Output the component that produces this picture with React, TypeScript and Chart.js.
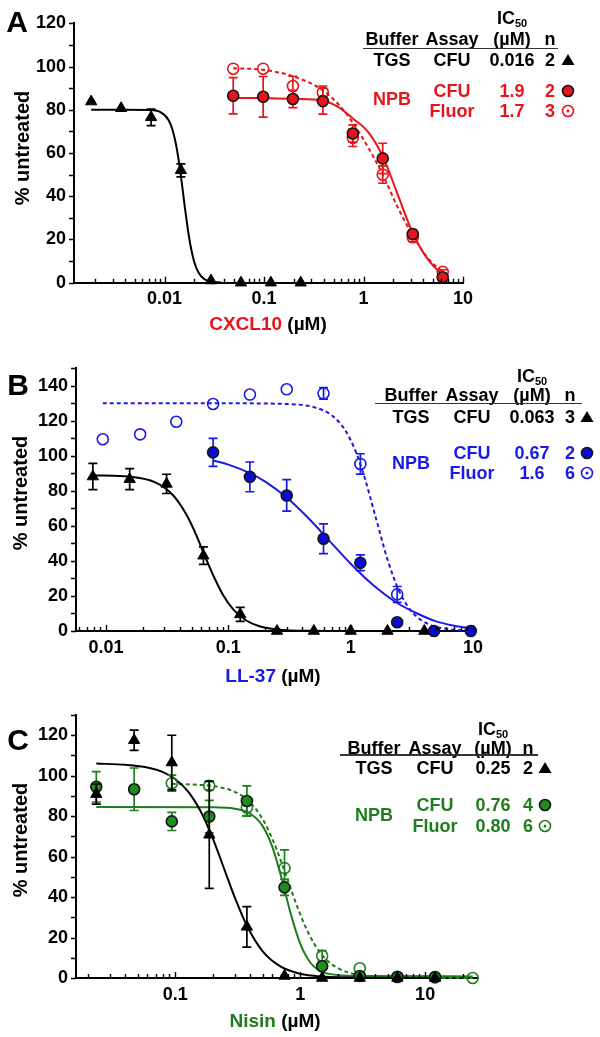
import React, { useEffect, useRef } from 'react';
import { Chart, registerables } from 'chart.js';

Chart.register(...registerables);

const FONT = '"Liberation Sans", Arial, Helvetica, sans-serif';
const RED = '#e8141c';
const BLUE = '#1a1ae6';
const BLUE_FILL = '#0b0bd6';
const GREEN = '#1f7d1f';
const GREEN_FILL = '#1e8c1e';
const INK = '#000000';

// ---------------- Panel A : CXCL10 ----------------
const A_TGS_X = [0.00183, 0.00366, 0.00732, 0.0146, 0.0293, 0.0586, 0.117, 0.234];
const A_TGS_Y = [83.8, 80.7, 76.5, 52, 1, 0, 0, 0];
const A_TGS_ERR = [0, 0, 3.8, 3, 0, 0, 0, 0];
const A_NPB_X = [0.049, 0.098, 0.195, 0.39, 0.78, 1.56, 3.125, 6.25];
const A_CFU_Y = [86.5, 86, 85, 84, 69, 57.5, 22.5, 2.5];
const A_CFU_ERR = [8.4, 9.4, 4, 6, 4, 7, 2, 1];
const A_FLU_Y = [99, 99, 91, 88, 67, 50, 21, 5];
const A_FLU_ERR = [0, 0, 4.5, 3, 4, 4, 2, 1];
const A_TGS_FIT_X = [0.00183, 0.004, 0.007, 0.009, 0.011, 0.012, 0.013, 0.014, 0.015, 0.016, 0.017, 0.018, 0.02, 0.022, 0.025, 0.029, 0.037];
const A_TGS_FIT_Y = [80, 80, 79.9, 79, 75.2, 70.9, 64.3, 55.4, 45.2, 34.9, 25.9, 18.6, 9.2, 4.6, 1.7, 0.5, 0.1];
const A_CFU_FIT_X = [0.049, 0.1, 0.2, 0.39, 0.55, 0.78, 1.1, 1.56, 2.2, 3.125, 4.4, 6.25];
const A_CFU_FIT_Y = [85.5, 85.4, 85.1, 84.2, 81.5, 76, 70, 58.5, 41, 23, 11, 3.5];
const A_FLU_FIT_X = [0.049, 0.098, 0.195, 0.39, 0.6, 0.78, 1.1, 1.56, 2.2, 3.125, 4.5, 6.25];
const A_FLU_FIT_Y = [99.2, 98.5, 95.5, 89, 81, 74, 63, 50, 35, 22, 11, 5];
const A_X_TICKS = [0.01, 0.1, 1, 10];
const A_Y_TICKS = [0, 20, 40, 60, 80, 100, 120];
const A_IC50 = ['0.016', '1.9', '1.7'];
const A_N = ['2', '2', '3'];

// ---------------- Panel B : LL-37 ----------------
const B_TGS_X = [0.0078, 0.0156, 0.03125, 0.0625, 0.125, 0.25, 0.5, 1, 2, 4];
const B_TGS_Y = [88.2, 86.7, 84, 43, 9.5, 0, 0, 0, 0, 0];
const B_TGS_ERR = [7.5, 6, 5.5, 5, 4, 0, 0, 0, 0, 0];
const B_CFU_X = [0.075, 0.15, 0.3, 0.6, 1.2, 2.4, 4.8, 9.6];
const B_CFU_Y = [102, 88, 77.4, 52.7, 39, 5, 0, 0];
const B_CFU_ERR = [8, 8.5, 9, 8.5, 4.5, 1, 0, 0];
const B_FLU_X = [0.0094, 0.019, 0.0375, 0.075, 0.15, 0.3, 0.6, 1.2, 2.4];
const B_FLU_Y = [109.5, 112.3, 119.5, 129.6, 135, 138, 135.7, 95.4, 20.9];
const B_FLU_ERR = [0, 0, 0, 0, 0, 0, 3.3, 5.8, 4.5];
const B_TGS_FIT_X = [0.0078, 0.0156, 0.025, 0.035, 0.045, 0.055, 0.0625, 0.075, 0.09, 0.11, 0.14, 0.18, 0.25, 0.5, 1, 2, 4];
const B_TGS_FIT_Y = [89, 88.1, 85, 77.8, 66.9, 54.3, 44.7, 32, 20.9, 12.2, 6, 2.7, 0.9, 0.1, 0, 0, 0];
const B_CFU_FIT_X = [0.075, 0.1, 0.15, 0.2, 0.3, 0.45, 0.67, 1.0, 1.5, 2.4, 3.5, 5, 7, 9.6];
const B_CFU_FIT_Y = [97.4, 95, 90.1, 85.3, 76.2, 64.5, 51.5, 38.4, 26.7, 16, 10, 5.5, 3, 1.5];
const B_FLU_FIT_X = [0.0094, 0.1, 0.3, 0.5, 0.7, 0.9, 1.1, 1.3, 1.6, 2.0, 2.5, 3.2, 4.5, 6.5, 9.6];
const B_FLU_FIT_Y = [130, 130, 129.6, 127.8, 123.2, 114.7, 102.4, 87.6, 65, 40.9, 22.5, 10.6, 3.4, 1, 0.2];
const B_X_TICKS = [0.01, 0.1, 1, 10];
const B_Y_TICKS = [0, 20, 40, 60, 80, 100, 120, 140];
const B_IC50 = ['0.063', '0.67', '1.6'];
const B_N = ['3', '2', '6'];

// ---------------- Panel C : Nisin ----------------
const C_X = [0.0234, 0.047, 0.094, 0.1875, 0.375, 0.75, 1.5, 3, 6, 12];
const C_TGS_Y = [90.9, 117.5, 106.5, 70.8, 25.3, 1, 0, 0, 0, 0];
const C_TGS_ERR = [5, 5, 13.5, 26.5, 10, 0, 0, 0, 0, 0];
const C_CFU_Y = [94.5, 93.3, 77.4, 79.8, 87.5, 44.8, 5.8, 1, 0.5, 0.5];
const C_CFU_ERR = [7.5, 10.5, 4.5, 8, 7.5, 4, 1, 0, 0, 0];
const C_FLU_X = [0.094, 0.1875, 0.375, 0.75, 1.5, 3, 6, 12, 24];
const C_FLU_Y = [96.3, 95, 84.3, 54.3, 11, 4.8, 0.6, 0.3, 0];
const C_FLU_ERR = [4, 2, 4, 9, 2.5, 0, 0, 0, 0];
const C_TGS_FIT_X = [0.0234, 0.04, 0.06, 0.08, 0.1, 0.13, 0.16, 0.2, 0.25, 0.3, 0.375, 0.5, 0.7, 1.0, 1.5, 3, 12];
const C_TGS_FIT_Y = [106, 105.4, 104.1, 101.8, 98.4, 91.4, 82.4, 69, 53, 39.8, 25.8, 13.3, 5.6, 2.1, 0.7, 0.1, 0];
const C_CFU_FIT_X = [0.0234, 0.2, 0.3, 0.4, 0.5, 0.6, 0.7, 0.76, 0.85, 1.0, 1.2, 1.5, 2, 3, 24];
const C_CFU_FIT_Y = [84.5, 84.4, 83.7, 81.2, 75.2, 64.7, 50.8, 42.3, 30.7, 17.1, 7.8, 3, 1.5, 1, 0.8];
const C_FLU_FIT_X = [0.094, 0.15, 0.2, 0.3, 0.4, 0.5, 0.6, 0.7, 0.8, 0.95, 1.1, 1.3, 1.6, 2, 3, 5, 24];
const C_FLU_FIT_Y = [96, 95.5, 94.9, 92, 86.6, 78.6, 68.7, 58.1, 48, 35.1, 25.5, 16.8, 9.4, 4.9, 1.4, 0.3, 0];
const C_X_TICKS = [0.1, 1, 10];
const C_Y_TICKS = [0, 20, 40, 60, 80, 100, 120];
const C_IC50 = ['0.25', '0.76', '0.80'];
const C_N = ['2', '4', '6'];

const Y_MINOR_STEP = 10;

const pts = (xs: number[], ys: number[]) => xs.map((x, i) => ({ x, y: ys[i] }));

// ---------------- plugins ----------------
const errPlugin = {
  id: 'errbars',
  beforeDatasetDraw(chart: any, args: any) {
    const ds = chart.data.datasets[args.index];
    if (!ds.errors) return;
    const ctx = chart.ctx;
    const xs = chart.scales.x;
    const ys = chart.scales.y;
    ctx.save();
    ctx.strokeStyle = ds.errColor;
    ctx.lineWidth = 1.7;
    ds.data.forEach((p: any, i: number) => {
      const e = ds.errors[i];
      if (!e) return;
      const x = xs.getPixelForValue(p.x);
      const y1 = ys.getPixelForValue(p.y + e);
      const y2 = ys.getPixelForValue(Math.max(0, p.y - e));
      ctx.beginPath();
      ctx.moveTo(x, y1); ctx.lineTo(x, y2);
      ctx.moveTo(x - 4.5, y1); ctx.lineTo(x + 4.5, y1);
      ctx.moveTo(x - 4.5, y2); ctx.lineTo(x + 4.5, y2);
      ctx.stroke();
    });
    ctx.restore();
  },
};

const tickPlugin = {
  id: 'axisTicks',
  afterDraw(chart: any) {
    const { ctx, chartArea } = chart;
    const xs = chart.scales.x;
    const ys = chart.scales.y;
    ctx.save();
    ctx.strokeStyle = INK;
    ctx.lineWidth = 1.4;
    ctx.beginPath();
    for (let v = 0; v <= ys.max + 1e-9; v += Y_MINOR_STEP) {
      const py = Math.round(ys.getPixelForValue(v)) + 0.5;
      ctx.moveTo(chartArea.left - 5, py);
      ctx.lineTo(chartArea.left, py);
    }
    const d0 = Math.floor(Math.log10(xs.min));
    const d1 = Math.ceil(Math.log10(xs.max));
    for (let d = d0; d <= d1; d++) {
      for (let m = 1; m < 10; m++) {
        const v = m * Math.pow(10, d);
        if (v < xs.min || v > xs.max * 1.0001) continue;
        const px = Math.round(xs.getPixelForValue(v)) + 0.5;
        const len = m === 1 ? 6 : 4;
        ctx.moveTo(px, chartArea.bottom);
        ctx.lineTo(px, chartArea.bottom - len);
      }
    }
    ctx.stroke();
    ctx.restore();
  },
};

// ---------------- datasets ----------------
function tri(data: any[], errors: number[]) {
  return { data, pointStyle: 'triangle', pointRadius: 6.5, backgroundColor: INK, borderColor: INK, borderWidth: 1, showLine: false, errors, errColor: INK, clip: false };
}
function filled(data: any[], errors: number[], fill: string, errColor: string) {
  return { data, pointStyle: 'circle', pointRadius: 5.5, backgroundColor: fill, borderColor: '#151515', borderWidth: 1.6, showLine: false, errors, errColor, clip: false };
}
function open(data: any[], errors: number[], color: string) {
  return { data, pointStyle: 'circle', pointRadius: 5.5, backgroundColor: 'rgba(255,255,255,0)', borderColor: color, borderWidth: 1.6, showLine: false, errors, errColor: color, clip: false };
}
function curve(data: any[], color: string, dashed: boolean) {
  return { data, showLine: true, pointRadius: 0, borderColor: color, borderWidth: 2, borderDash: dashed ? [4, 3] : [], cubicInterpolationMode: 'monotone', fill: false, clip: false };
}

type Panel = {
  height: number; top: number; bottom: number; left: number; right: number;
  xMin: number; xMax: number; yMax: number; xTicks: number[]; yTicks: number[]; datasets: any[];
};

const PANEL_A: Panel = {
  height: 345, top: 23.3, bottom: 282.7, left: 74, right: 463,
  xMin: 0.00123, xMax: 10, yMax: 120, xTicks: A_X_TICKS, yTicks: A_Y_TICKS,
  datasets: [
    tri(pts(A_TGS_X, A_TGS_Y), A_TGS_ERR),
    filled(pts(A_NPB_X, A_CFU_Y), A_CFU_ERR, RED, RED),
    open(pts(A_NPB_X, A_FLU_Y), A_FLU_ERR, RED),
    curve(pts(A_TGS_FIT_X, A_TGS_FIT_Y), INK, false),
    curve(pts(A_CFU_FIT_X, A_CFU_FIT_Y), RED, false),
    curve(pts(A_FLU_FIT_X, A_FLU_FIT_Y), RED, true),
  ],
};

const PANEL_B: Panel = {
  height: 345, top: 23.3, bottom: 286, left: 76, right: 473,
  xMin: 0.00568, xMax: 10, yMax: 150, xTicks: B_X_TICKS, yTicks: B_Y_TICKS,
  datasets: [
    tri(pts(B_TGS_X, B_TGS_Y), B_TGS_ERR),
    filled(pts(B_CFU_X, B_CFU_Y), B_CFU_ERR, BLUE_FILL, BLUE),
    open(pts(B_FLU_X, B_FLU_Y), B_FLU_ERR, BLUE),
    curve(pts(B_TGS_FIT_X, B_TGS_FIT_Y), INK, false),
    curve(pts(B_CFU_FIT_X, B_CFU_FIT_Y), BLUE, false),
    curve(pts(B_FLU_FIT_X, B_FLU_FIT_Y), BLUE, true),
  ],
};

const PANEL_C: Panel = {
  height: 347, top: 25, bottom: 288, left: 76, right: 477,
  xMin: 0.0161, xMax: 26, yMax: 130, xTicks: C_X_TICKS, yTicks: C_Y_TICKS,
  datasets: [
    tri(pts(C_X, C_TGS_Y), C_TGS_ERR),
    filled(pts(C_X, C_CFU_Y), C_CFU_ERR, GREEN_FILL, GREEN),
    open(pts(C_FLU_X, C_FLU_Y), C_FLU_ERR, GREEN),
    curve(pts(C_TGS_FIT_X, C_TGS_FIT_Y), INK, false),
    curve(pts(C_CFU_FIT_X, C_CFU_FIT_Y), GREEN, false),
    curve(pts(C_FLU_FIT_X, C_FLU_FIT_Y), GREEN, true),
  ],
};

function buildConfig(p: Panel): any {
  const tickFont = { family: FONT, size: 18, weight: 'bold' };
  return {
    type: 'scatter',
    data: { datasets: p.datasets },
    options: {
      responsive: false,
      animation: false,
      events: [],
      layout: { padding: { left: 0, top: p.top, right: 600 - p.right, bottom: 0 } },
      plugins: { legend: { display: false }, tooltip: { enabled: false } },
      scales: {
        x: {
          type: 'logarithmic', min: p.xMin, max: p.xMax,
          grid: { display: false, drawTicks: false },
          border: { display: true, color: INK, width: 2 },
          ticks: { font: tickFont, color: INK, padding: 6, maxRotation: 0, autoSkip: false, callback: (v: any) => String(v) },
          afterBuildTicks: (s: any) => { s.ticks = p.xTicks.map((v) => ({ value: v })); },
          afterFit: (s: any) => { s.height = p.height - p.bottom; },
        },
        y: {
          type: 'linear', min: 0, max: p.yMax,
          grid: { display: false, drawTicks: false },
          border: { display: true, color: INK, width: 2 },
          ticks: { font: tickFont, color: INK, padding: 8, callback: (v: any) => String(v) },
          afterBuildTicks: (s: any) => { s.ticks = p.yTicks.map((v) => ({ value: v })); },
          afterFit: (s: any) => { s.width = p.left; },
        },
      },
    },
    plugins: [errPlugin, tickPlugin],
  };
}

function PanelChart({ panel, top }: { panel: Panel; top: number }) {
  const ref = useRef<HTMLCanvasElement | null>(null);
  useEffect(() => {
    if (!ref.current) return;
    const chart = new Chart(ref.current, buildConfig(panel));
    return () => chart.destroy();
  }, [panel]);
  return (
    <canvas
      ref={ref}
      width={600}
      height={panel.height}
      style={{ position: 'absolute', left: 0, top, width: 600, height: panel.height }}
    />
  );
}

function Txt({ x, y, color = INK, size = 18, rotate = false, children }: any) {
  return (
    <div
      style={{
        position: 'absolute', left: x, top: y,
        transform: `translate(-50%, -50%)${rotate ? ' rotate(-90deg)' : ''}`,
        color, fontSize: size, lineHeight: 1, whiteSpace: 'nowrap',
        fontWeight: 'bold', fontFamily: FONT,
      }}
    >
      {children}
    </div>
  );
}

function Marker({ x, y, kind, color, fill }: any) {
  return (
    <svg width={18} height={18} style={{ position: 'absolute', left: x - 9, top: y - 9 }}>
      {kind === 'tri' && <polygon points="9,3 15.5,14 2.5,14" fill={INK} />}
      {kind === 'filled' && <circle cx={9} cy={9} r={5.5} fill={fill} stroke="#151515" strokeWidth={1.6} />}
      {kind === 'open' && (
        <g>
          <circle cx={9} cy={9} r={5.5} fill="#fff" stroke={color} strokeWidth={1.6} />
          <circle cx={9} cy={9} r={1.5} fill={color} />
        </g>
      )}
    </svg>
  );
}

function Table({ cols, rows, line, color, fill, ic50, n }: any) {
  const [bx, ax, ix, nx, mx] = cols;
  const [icY, hY, lY, tY, cY, pY, fY] = rows;
  return (
    <>
      <Txt x={ix} y={icY}>IC<span style={{ fontSize: 11, verticalAlign: '-3px' }}>50</span></Txt>
      <Txt x={bx} y={hY}>Buffer</Txt>
      <Txt x={ax} y={hY}>Assay</Txt>
      <Txt x={ix} y={hY}>(µM)</Txt>
      <Txt x={nx} y={hY}>n</Txt>
      <div style={{ position: 'absolute', left: line[0], top: lY - 0.75, width: line[1] - line[0], height: 1.5, background: '#333' }} />
      <Txt x={bx} y={tY}>TGS</Txt>
      <Txt x={ax} y={tY}>CFU</Txt>
      <Txt x={ix} y={tY}>{ic50[0]}</Txt>
      <Txt x={nx} y={tY}>{n[0]}</Txt>
      <Marker x={mx} y={tY} kind="tri" />
      <Txt x={bx} y={pY} color={color}>NPB</Txt>
      <Txt x={ax} y={cY} color={color}>CFU</Txt>
      <Txt x={ix} y={cY} color={color}>{ic50[1]}</Txt>
      <Txt x={nx} y={cY} color={color}>{n[1]}</Txt>
      <Marker x={mx} y={cY} kind="filled" fill={fill} />
      <Txt x={ax} y={fY} color={color}>Fluor</Txt>
      <Txt x={ix} y={fY} color={color}>{ic50[2]}</Txt>
      <Txt x={nx} y={fY} color={color}>{n[2]}</Txt>
      <Marker x={mx} y={fY} kind="open" color={color} />
    </>
  );
}

export default function App() {
  return (
    <div style={{ position: 'absolute', left: 0, top: 0, width: 600, height: 1037, background: '#fff', overflow: 'hidden' }}>
      <PanelChart panel={PANEL_A} top={0} />
      <PanelChart panel={PANEL_B} top={345} />
      <PanelChart panel={PANEL_C} top={690} />

      <Txt x={17} y={22} size={30}>A</Txt>
      <Txt x={18} y={385} size={30}>B</Txt>
      <Txt x={18} y={740} size={30}>C</Txt>

      <Txt x={22} y={148} size={20} rotate>% untreated</Txt>
      <Txt x={20} y={493} size={20} rotate>% untreated</Txt>
      <Txt x={20} y={840} size={20} rotate>% untreated</Txt>

      <Txt x={268} y={323} size={19}><span style={{ color: RED }}>CXCL10</span> (µM)</Txt>
      <Txt x={273} y={675} size={19}><span style={{ color: BLUE }}>LL-37</span> (µM)</Txt>
      <Txt x={275} y={1020} size={19}><span style={{ color: GREEN }}>Nisin</span> (µM)</Txt>

      <Table cols={[392, 452, 512, 550, 568]} rows={[19, 39.3, 48.3, 60, 90.7, 99.3, 111]} line={[363, 558]} color={RED} fill={RED} ic50={A_IC50} n={A_N} />
      <Table cols={[411, 472, 532, 570, 587]} rows={[377, 395, 403.3, 416.7, 452.7, 463.3, 473.3]} line={[375, 582]} color={BLUE} fill={BLUE_FILL} ic50={B_IC50} n={B_N} />
      <Table cols={[374, 435, 493, 528, 545]} rows={[730, 748.3, 755, 768.3, 805, 815, 826]} line={[340, 538]} color={GREEN} fill={GREEN_FILL} ic50={C_IC50} n={C_N} />
    </div>
  );
}
